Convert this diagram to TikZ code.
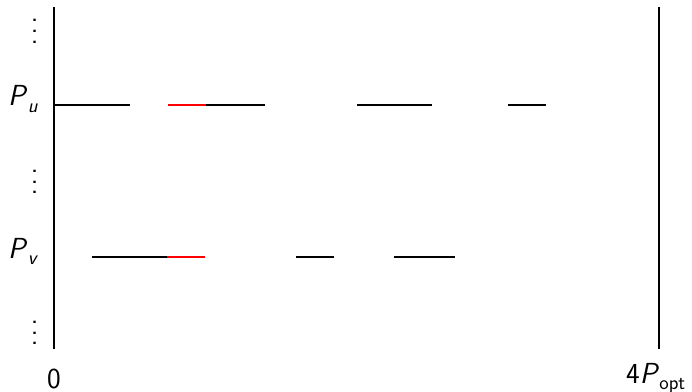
\documentclass[tikz,border=0pt]{standalone}
\usepackage{fontspec}
\newcommand{\myvdots}{\vbox{\baselineskip=10.8pt\lineskiplimit=0pt\hbox{.}\hbox{.}\hbox{.}}}
\newcommand{\subtxt}[1]{\raisebox{-0.22em}{\fontsize{20}{24}\selectfont #1}}
\tikzset{
  lbl/.style={inner sep=0pt, font=\fontsize{29}{34}\selectfont\sffamily},
  axisline/.style={line width=2.6pt},
  seg/.style={line width=2.8pt},
  redseg/.style={seg, red}
}
\begin{document}
\begin{tikzpicture}[x=1pt,y=1pt]
\useasboundingbox (0,0) rectangle (692,391);
% axes
\coordinate (l0) at (54,42);
\coordinate (l1) at (54,384);
\coordinate (r0) at (659,42);
\coordinate (r1) at (659,384);
\draw[axisline] (l0) -- (l1);
\draw[axisline] (r0) -- (r1);
% row P_u
\draw[seg] (54,286) -- (130,286);
\draw[redseg] (168,286) -- (206,286);
\draw[seg] (206,286) -- (265,286);
\draw[seg] (357,286) -- (432,286);
\draw[seg] (508,286) -- (546,286);
% row P_v
\draw[seg] (92,134) -- (167,134);
\draw[redseg] (167,134) -- (205,134);
\draw[seg] (296,134) -- (334,134);
\draw[seg] (394,134) -- (455,134);
% labels
\node[lbl, anchor=base west] (pu) at (8,285) {\textit{P}\subtxt{\textit{u}}};
\node[lbl, anchor=base west] (pv) at (8,133) {\textit{P}\subtxt{\textit{v}}};
\node[lbl, anchor=base] (d1) at (34.7,347.7) {\myvdots};
\node[lbl, anchor=base] (d2) at (34.7,197.1) {\myvdots};
\node[lbl, anchor=base] (d3) at (34.7,46.1) {\myvdots};
\node[lbl, anchor=base] (zero) at (54,3) {0};
\node[lbl, anchor=base west] (fp) at (626,8) {4\textit{P}\subtxt{opt}};
\end{tikzpicture}
\end{document}
